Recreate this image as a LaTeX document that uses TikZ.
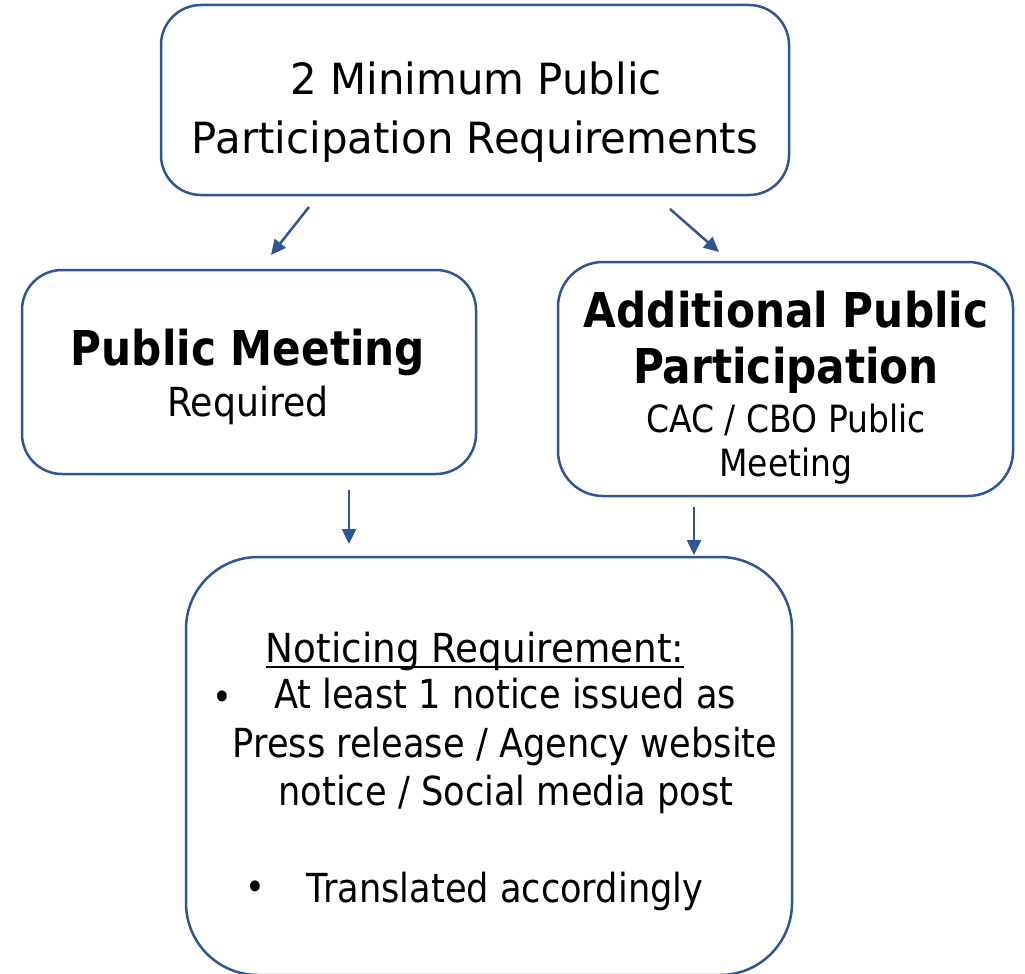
\documentclass[tikz,border=0pt]{standalone}
\usepackage{fontspec}
\setmainfont{DejaVu Sans}[FakeStretch=0.88]
\usetikzlibrary{arrows.meta}
\definecolor{bord}{HTML}{2F5597}
\begin{document}
\begin{tikzpicture}[x=1pt,y=-1pt,
  box/.style={draw=bord, line width=2.5pt, rounded corners=#1, inner sep=0pt},
  txt/.style={anchor=base, inner sep=0pt, font=\fontsize{40}{48}\selectfont},
  bigtxt/.style={anchor=base, inner sep=0pt, font=\fontsize{43}{50}\selectfont},
  smtxt/.style={anchor=base, inner sep=0pt, font=\fontsize{37.5}{44}\selectfont},
  btxt/.style={anchor=base, inner sep=0pt, font=\fontsize{48}{56}\selectfont\bfseries},
  bul/.style={inner sep=0pt, font=\fontsize{38}{38}\selectfont},
  arr/.style={draw=bord, line width=2.5pt, -{Triangle[length=15pt,width=14pt]}}]
\useasboundingbox (0,0) rectangle (1025,974);
\clip (0,0) rectangle (1025,974);
% boxes
\node[box=40pt, minimum width=628pt, minimum height=190pt] (top) at (475,100) {};
\node[box=40pt, minimum width=454pt, minimum height=204pt] (left) at (249,372) {};
\node[box=45pt, minimum width=455pt, minimum height=234pt] (right) at (785.5,379) {};
\node[box=72pt, minimum width=606pt, minimum height=418pt] (bottom) at (489,766) {};
% top text
\node[bigtxt] (t1) at (476,95) {\scalebox{1.107}[1]{2 Minimum Public}};
\node[bigtxt] (t2) at (475,153) {\scalebox{1.107}[1]{Participation Requirements}};
% left text
\node[btxt] (l1) at (248,365) {Public Meeting};
\node[txt] (l2) at (248,416) {\scalebox{1.03}[1]{Required}};
% right text
\node[btxt] (r1) at (786,327) {Additional Public};
\node[btxt] (r2) at (786,383) {Participation};
\node[smtxt] (r3) at (786,432) {CAC / CBO Public};
\node[smtxt] (r4) at (786,476) {Meeting};
% bottom text
\node[txt] (b0) at (475,662) {\scalebox{1.06}[1]{Noticing Requirement:}};
\draw[line width=2pt] ([yshift=-5pt]b0.base west) -- ([yshift=-5pt]b0.base east);
\node[bul] (bu1) at (222,701) {•};
\node[txt] (b1) at (505,708) {At least 1 notice issued as};
\node[txt] (b2) at (505,757) {Press release / Agency website};
\node[txt] (b3) at (506,805) {notice / Social media post};
\node[bul] (bu2) at (255,891) {•};
\node[txt] (b4) at (505,902) {Translated accordingly};
% arrows
\coordinate (a1s) at (309,207); \coordinate (a1e) at (271,255);
\coordinate (a2s) at (670,209); \coordinate (a2e) at (719,252);
\coordinate (a3s) at (349,490); \coordinate (a3e) at (349,544);
\coordinate (a4s) at (694,507); \coordinate (a4e) at (694,555);
\draw[arr] (a1s) -- (a1e);
\draw[arr] (a2s) -- (a2e);
\draw[arr] (a3s) -- (a3e);
\draw[arr] (a4s) -- (a4e);
\end{tikzpicture}
\end{document}
